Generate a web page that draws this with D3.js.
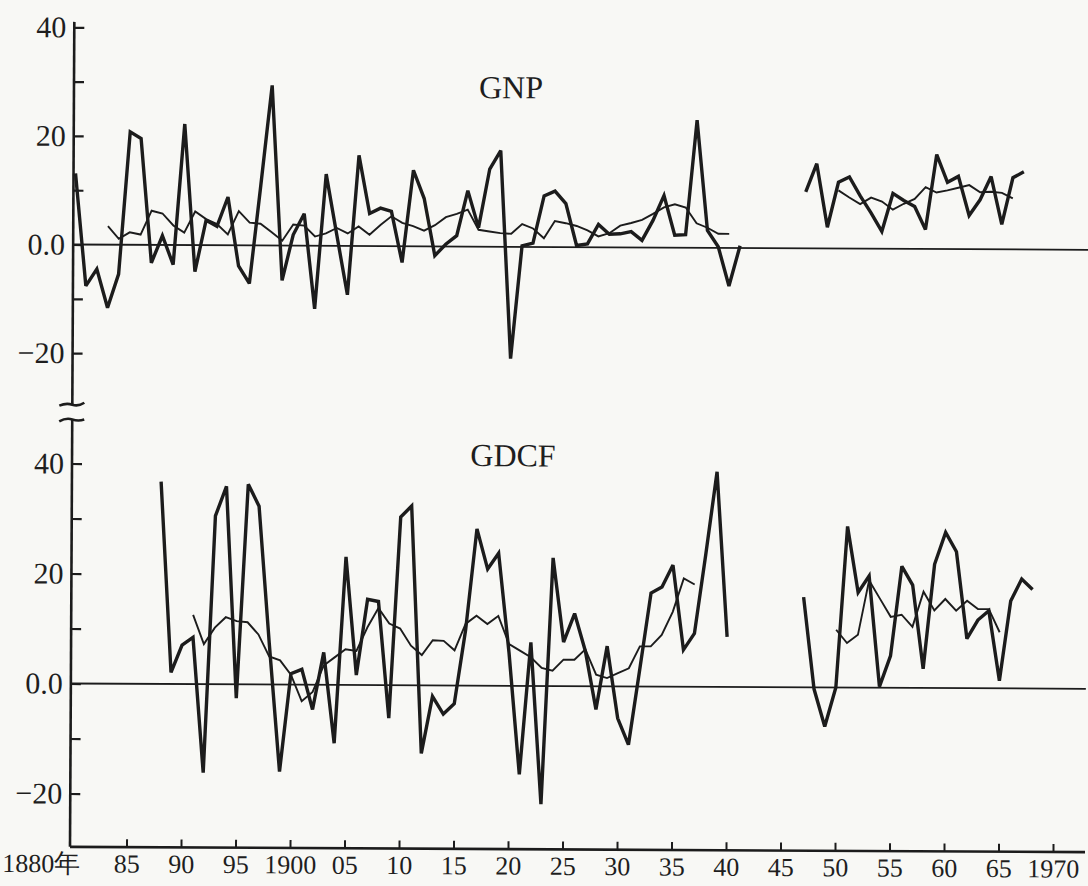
<!DOCTYPE html>
<html>
<head>
<meta charset="utf-8">
<script src="https://cdn.jsdelivr.net/npm/d3@7"></script>
<style>
  body { margin: 0; background: #f8f8f5; }
  svg { display: block; }
  text { font-family: "Liberation Serif", "DejaVu Serif", serif; fill: #1e1e1e; }
</style>
</head>
<body>
<div id="chart"></div>
<script>
// annual growth rates (%), thick lines
const gnpStart = 1880;
const gnpPre = [13.1, -7.6, -4.5, -11.6, -5.4, 20.8, 19.6, -3.3, 1.7, -3.6,
  22.3, -4.9, 4.6, 3.5, 8.9, -3.8, -7.0, 11.0, 29.5, -6.4,
  2.0, 5.9, -11.6, 13.2, 2.0, -9.0, 16.7, 6.0, 7.0, 6.4,
  -3.0, 14.0, 8.8, -1.7, 0.4, 2.0, 10.3, 3.5, 14.3, 17.7,
  -20.6, 0.2, 0.7, 9.4, 10.3, 8.0, 0.3, 0.6, 4.2, 2.4,
  2.5, 2.9, 1.3, 5.0, 9.6, 2.3, 2.4, 23.5, 3.2, 0.2,
  -7.0, 0.4];
const gnpPostStart = 1947;
const gnpPost = [10.4, 15.6, 3.9, 12.2, 13.2, 9.7, 6.6, 3.2, 10.2, 8.9,
  7.8, 3.6, 17.4, 12.3, 13.4, 6.2, 9.1, 13.4, 4.6, 13.2, 14.3];

// moving averages, thin lines
const gnpMaStart = 1883;
const gnpMaPre = [3.4, 1.1, 2.3, 1.9, 6.3, 5.8, 3.6,
  2.3, 6.2, 4.8, 3.9, 2.0, 6.3, 4.2, 4.0, 2.5, 0.9,
  3.9, 3.7, 1.7, 2.3, 3.3, 2.3, 3.6, 2.1, 3.9, 5.5,
  4.3, 3.7, 2.9, 3.9, 5.4, 6.0, 6.8, 3.1, 2.8, 2.5,
  2.4, 4.2, 3.4, 1.6, 4.8, 4.4, 3.9, 3.1, 2.0, 2.6,
  4.0, 4.5, 5.1, 6.2, 7.4, 8.0, 7.4, 4.5, 3.7, 2.6, 2.6];
const gnpMaPostStart = 1950;
const gnpMaPost = [10.7, 9.4, 8.2, 9.4, 8.7, 7.2, 8.3, 9.2, 11.4, 10.4,
  10.8, 11.3, 11.8, 10.5, 10.6, 10.4, 9.4];

const gdcfStart = 1888;
const gdcfPre = [36.8, 2.1, 7.1, 8.5, -16.1, 30.6, 36.0, -2.5, 36.4, 32.4,
  7.5, -15.8, 2.0, 2.8, -4.5, 5.9, -10.6, 23.3, 1.8, 15.6,
  15.2, -6.0, 30.6, 32.6, -12.4, -2.0, -5.2, -3.3, 10.0, 28.5,
  21.2, 24.1, 6.0, -16.1, 7.9, -21.5, 23.3, 8.0, 13.2, 6.4,
  -4.2, 7.3, -5.8, -10.6, 3.1, 17.0, 18.1, 22.1, 6.7, 9.7,
  24.0, 39.1, 9.1];
const gdcfPostStart = 1947;
const gdcfPost = [16.4, -0.3, -7.1, 0.0, 29.3, 17.3, 20.3, 0.2, 5.8, 22.1,
  18.7, 3.5, 22.5, 28.3, 24.8, 9.0, 12.4, 14.1, 1.4, 15.9, 19.9, 18.0];

const gdcfMaStart = 1891;
const gdcfMaPre = [12.6, 7.3, 10.3, 12.2, 11.5, 11.3, 9.1, 5.1, 4.4,
  1.8, -3.0, -1.3, 3.5, 5.0, 6.5, 6.2, 10.5, 14.0, 11.2,
  10.3, 7.2, 5.5, 8.2, 8.1, 6.4, 11.2, 12.7, 11.2, 12.7,
  7.6, 6.4, 5.2, 3.3, 2.8, 4.8, 4.8, 6.7, 2.1, 1.5,
  2.4, 3.3, 7.3, 7.3, 9.4, 13.6, 19.7, 18.6];
const gdcfMaPostStart = 1950;
const gdcfMaPost = [10.5, 8.1, 9.6, 19.5, 16.2, 12.9, 13.3, 11.1, 17.5, 14.1,
  16.2, 14.1, 15.9, 14.4, 14.4, 10.2];

const yearTicks = d3.range(1880, 1971, 5);
const yTickValues = [-20, -10, 0, 10, 20, 30, 40];

const width = 1088, height = 886;

const svg = d3.select("#chart").append("svg")
    .attr("width", width)
    .attr("height", height);

svg.append("rect").attr("width", width).attr("height", height).attr("fill", "#f8f8f5");

// the scanned page sits a little crooked
const g = svg.append("g").attr("transform", "rotate(0.3, 70, 847)");

const x = d3.scaleLinear().domain([1880, 1970]).range([72, 1053]);
const yTop = d3.scaleLinear().domain([-20, 40]).range([353.1, 27.3]);
const yBot = d3.scaleLinear().domain([-20, 40]).range([793.5, 463.5]);

const axisX = 70, rightEnd = 1085;
const ink = "#1c1c1c";

function toPoints(start, vals){
    return vals.map((v, i) => ({year: start + i, v: v}));
}

function yLabel(d){
    if (d === 0) return "0.0";
    if (d % 20 !== 0) return "";
    return d < 0 ? "\u2212" + (-d) : String(d);
}

// vertical axes with the break between the panels
const topBottom = yTop(-29.5), botTop = yBot(48);
g.append("line")
    .attr("x1", axisX).attr("x2", axisX)
    .attr("y1", yTop(41)).attr("y2", topBottom)
    .attr("stroke", ink).attr("stroke-width", 2.6);
g.append("line")
    .attr("x1", axisX).attr("x2", axisX)
    .attr("y1", botTop).attr("y2", yBot(-29.7))
    .attr("stroke", ink).attr("stroke-width", 2.6);
g.append("path")
    .attr("d", `M${axisX - 13},${topBottom + 1} Q${axisX - 6},${topBottom - 2} ${axisX},${topBottom} T${axisX + 12},${topBottom - 2}`)
    .attr("fill", "none").attr("stroke", ink).attr("stroke-width", 2.6);
g.append("path")
    .attr("d", `M${axisX - 13},${botTop + 2} Q${axisX - 6},${botTop - 2} ${axisX},${botTop} T${axisX + 12},${botTop}`)
    .attr("fill", "none").attr("stroke", ink).attr("stroke-width", 2.6);

[yTop, yBot].forEach(y => {
    const ax = g.append("g")
        .attr("transform", `translate(${axisX},0)`)
        .call(d3.axisLeft(y).tickValues(yTickValues).tickSize(-10).tickPadding(8).tickFormat(yLabel));
    ax.select(".domain").remove();
    ax.selectAll(".tick line").attr("stroke", ink).attr("stroke-width", 2.2);
    ax.selectAll(".tick text")
        .attr("font-family", "Liberation Serif, serif")
        .attr("font-size", 30)
        .attr("fill", ink);

    // zero line across the panel
    g.append("line")
        .attr("x1", axisX).attr("x2", rightEnd)
        .attr("y1", y(0)).attr("y2", y(0))
        .attr("stroke", ink).attr("stroke-width", 1.8);
});

// x axis
const xBase = yBot(-29.7);
const xAx = g.append("g")
    .attr("transform", `translate(0,${xBase})`)
    .call(d3.axisBottom(x).tickValues(yearTicks).tickSize(-8).tickPadding(7)
        .tickFormat(d => d === 1880 ? "1880年" : (d === 1900 || d === 1970) ? String(d) : String(d).slice(2)));
xAx.select(".domain").remove();
g.append("line")
    .attr("x1", axisX).attr("x2", rightEnd)
    .attr("y1", xBase).attr("y2", xBase)
    .attr("stroke", ink).attr("stroke-width", 2.6);
xAx.selectAll(".tick line").attr("stroke", ink).attr("stroke-width", 2);
xAx.selectAll(".tick text")
    .attr("font-family", "Liberation Serif, serif")
    .attr("font-size", 26)
    .attr("fill", ink);
xAx.selectAll(".tick").filter(d => d === 1880).select("line").remove();
xAx.selectAll(".tick").filter(d => d === 1880).select("text")
    .attr("text-anchor", "end").attr("x", 8);

// series
function drawSeries(y, start, vals, thick){
    const line = d3.line()
        .x(d => x(d.year))
        .y(d => y(d.v));
    g.append("path")
        .datum(toPoints(start, vals))
        .attr("d", line)
        .attr("fill", "none")
        .attr("stroke", ink)
        .attr("stroke-width", thick ? 3.4 : 1.9)
        .attr("stroke-linejoin", "miter")
        .attr("stroke-miterlimit", 3);
}

drawSeries(yTop, gnpMaStart, gnpMaPre, false);
drawSeries(yTop, gnpMaPostStart, gnpMaPost, false);
drawSeries(yTop, gnpStart, gnpPre, true);
drawSeries(yTop, gnpPostStart, gnpPost, true);

drawSeries(yBot, gdcfMaStart, gdcfMaPre, false);
drawSeries(yBot, gdcfMaPostStart, gdcfMaPost, false);
drawSeries(yBot, gdcfStart, gdcfPre, true);
drawSeries(yBot, gdcfPostStart, gdcfPost, true);

// panel titles
g.append("text")
    .attr("x", 507).attr("y", 96)
    .attr("text-anchor", "middle")
    .attr("font-size", 32)
    .text("GNP");
g.append("text")
    .attr("x", 511).attr("y", 464)
    .attr("text-anchor", "middle")
    .attr("font-size", 32)
    .text("GDCF");
</script>
</body>
</html>
